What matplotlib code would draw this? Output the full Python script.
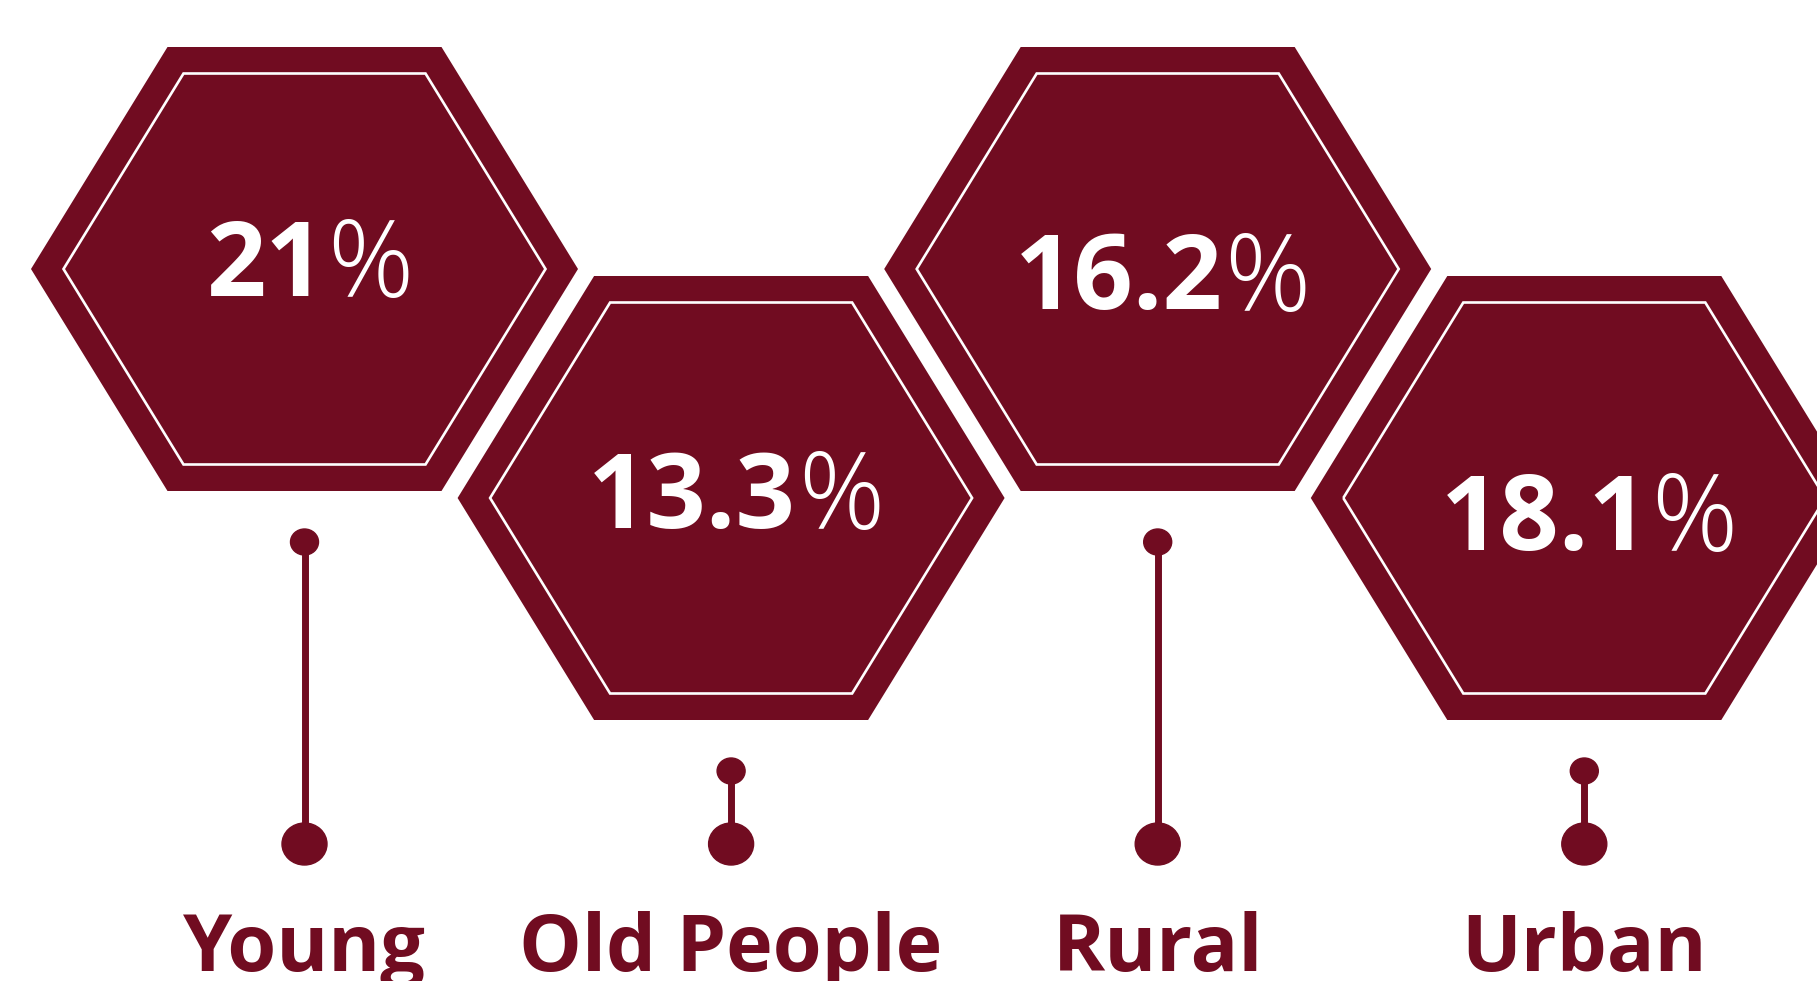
import matplotlib.pyplot as plt
from matplotlib.patches import Polygon, Ellipse

# data ---------------------------------------------------------------
categories = ["Young", "Old People", "Rural", "Urban"]
values = [21, 13.3, 16.2, 18.1]

# layout (pixel space of the 1817x981 picture) -----------------------
W, H = 1817, 981
col = '#710C21'
cx0, step = 304.5, 426.6          # hexagon centre x of first item, spacing
cy_top, cy_low = 269, 498         # alternating hexagon centre heights
hw, tw, hh = 273.5, 137.0, 222.0  # outer hexagon half width / top half width / half height
ihw, itw, ihh = 241.0, 121.0, 195.5
text_dy = [27.5, 30, 40.5, 52]    # baseline of the percentage below the centre
label_y = 971
bigdot_y = 844

fig = plt.figure(figsize=(W / 100, H / 100), dpi=100)
ax = fig.add_axes([0, 0, 1, 1])
ax.set_xlim(0, W)
ax.set_ylim(H, 0)
ax.axis('off')


def hexagon(cx, cy, a, b, c):
    return [(cx - a, cy), (cx - b, cy - c), (cx + b, cy - c),
            (cx + a, cy), (cx + b, cy + c), (cx - b, cy + c)]


renderer = fig.canvas.get_renderer()

for i, (cat, val) in enumerate(zip(categories, values)):
    cx = cx0 + i * step
    cy = cy_top if i % 2 == 0 else cy_low

    ax.add_patch(Polygon(hexagon(cx, cy, hw, tw, hh), closed=True,
                         facecolor=col, edgecolor='none', zorder=1))
    ax.add_patch(Polygon(hexagon(cx, cy, ihw, itw, ihh), closed=True,
                         facecolor='none', edgecolor='white', lw=1.9, zorder=2))

    # number in bold, % sign in a light weight, centred together
    ty = cy + text_dy[i]
    t1 = ax.text(0, ty, f"{val:g}", color='white', fontsize=75, family='Open Sans',
                 fontweight='bold', ha='left', va='baseline', zorder=3)
    t2 = ax.text(0, ty + 1, "%", color='white', fontsize=77, family='Open Sans',
                 fontweight='light', ha='left', va='baseline', zorder=3)
    w1 = t1.get_window_extent(renderer).width
    w2 = t2.get_window_extent(renderer).width
    x_start = cx - (w1 + w2) / 2 + 4
    t1.set_x(x_start)
    t2.set_x(x_start + w1 + 2)

    # connector: small dot, stem, big dot
    top_y = cy + hh + 51
    ax.plot([cx, cx], [top_y, bigdot_y], color=col, lw=5, solid_capstyle='butt', zorder=2)
    ax.add_patch(Ellipse((cx, top_y), 28, 26, color=col, zorder=3))
    ax.add_patch(Ellipse((cx, bigdot_y), 45, 42, color=col, zorder=3))

    ax.text(cx, label_y, cat, color=col, fontsize=57, family='Open Sans',
            fontweight='bold', ha='center', va='baseline', zorder=3)

fig.savefig('out.png', dpi=100, facecolor='white')
